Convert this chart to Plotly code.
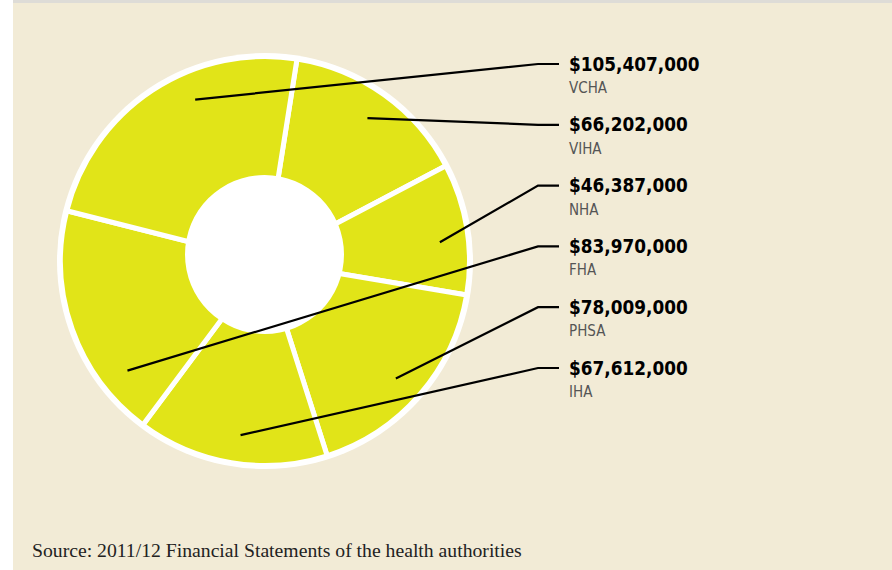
import math
import plotly.graph_objects as go

# ---- data ----
authorities = ["VCHA", "VIHA", "NHA", "FHA", "PHSA", "IHA"]
amounts = [105407000, 66202000, 46387000, 83970000, 78009000, 67612000]
pie_order = ["VIHA", "NHA", "PHSA", "IHA", "FHA", "VCHA"]
source_text = "Source: 2011/12 Financial Statements of the health authorities"

# ---- style / layout ----
W, H = 892, 570
BG = "#F2EBD6"
YELLOW = "#E1E418"
CX, CY, R = 265, 261, 204.5          # pie centre / radius in px
ROT = 9                               # first slice start angle (deg, clockwise)
HOLE_CX, HOLE_CY, HOLE_R = 264.5, 254.5, 79.5
leader_nudge = {"VCHA": 10, "VIHA": 0, "NHA": 3, "FHA": -19, "PHSA": 1, "IHA": -1.5}
LEADER_R = 0.86
LABEL_X = 567
LABEL_Y0, LABEL_DY = 64, 60.8
ELBOW_X, END_X = 538, 559


def px(x):
    return x / W


def py(y):
    return 1 - y / H


amt = dict(zip(authorities, amounts))
vals = [amt[a] for a in pie_order]

fig = go.Figure(go.Pie(
    labels=pie_order, values=vals, sort=False, direction="clockwise",
    rotation=ROT, textinfo="none", hoverinfo="label+value",
    marker=dict(colors=[YELLOW] * len(vals), line=dict(color="white", width=5)),
    domain=dict(x=[px(CX - R), px(CX + R)], y=[py(CY + R), py(CY - R)]),
    showlegend=False,
))

shapes = [
    # left white strip and top grey band
    dict(type="rect", xref="paper", yref="paper", x0=0, x1=px(13), y0=0, y1=1,
         fillcolor="white", line_width=0, layer="below"),
    dict(type="rect", xref="paper", yref="paper", x0=px(13), x1=1, y0=py(3), y1=1,
         fillcolor="#DEDCD7", line_width=0, layer="below"),
    # white outer ring
    dict(type="circle", xref="paper", yref="paper",
         x0=px(CX - R - 3.5), x1=px(CX + R + 3.5), y0=py(CY + R + 3.5), y1=py(CY - R - 3.5),
         fillcolor="white", line_width=0, layer="below"),
    # off-centre hole
    dict(type="circle", xref="paper", yref="paper",
         x0=px(HOLE_CX - HOLE_R), x1=px(HOLE_CX + HOLE_R),
         y0=py(HOLE_CY + HOLE_R), y1=py(HOLE_CY - HOLE_R),
         fillcolor="white", line_width=0, layer="above"),
]

# mid angles of slices
total = sum(vals)
mid = {}
a = ROT
for name, v in zip(pie_order, vals):
    span = 360 * v / total
    mid[name] = a + span / 2
    a += span

annotations = []
for i, name in enumerate(authorities):
    ly = LABEL_Y0 + i * LABEL_DY
    th = math.radians(mid[name] + leader_nudge[name])
    ax = CX + LEADER_R * R * math.sin(th)
    ay = CY - LEADER_R * R * math.cos(th)
    shapes.append(dict(type="path", xref="paper", yref="paper",
                       path=f"M {px(ax)},{py(ay)} L {px(ELBOW_X)},{py(ly)} L {px(END_X)},{py(ly)}",
                       line=dict(color="black", width=2.2), layer="above"))
    annotations.append(dict(
        x=px(LABEL_X), y=py(ly), xref="paper", yref="paper", xanchor="left", yanchor="middle",
        text=f"${amt[name]:,}", showarrow=False,
        font=dict(family="DejaVu Sans Condensed", size=18.8, color="black", weight="bold")))
    annotations.append(dict(
        x=px(LABEL_X), y=py(ly + 24), xref="paper", yref="paper", xanchor="left", yanchor="middle",
        text=name, showarrow=False,
        font=dict(family="DejaVu Sans Condensed", size=15, color="#555555")))

annotations.append(dict(
    x=px(30), y=py(550), xref="paper", yref="paper", xanchor="left", yanchor="middle",
    text=source_text, showarrow=False,
    font=dict(family="Liberation Serif", size=19.7, color="#222222")))

fig.update_layout(
    width=W, height=H, margin=dict(l=0, r=0, t=0, b=0),
    paper_bgcolor=BG, plot_bgcolor=BG,
    shapes=shapes, annotations=annotations,
)

fig.write_html("out.html", config={"displayModeBar": False},
               post_script="document.body.style.margin='0';document.body.style.padding='0';")
